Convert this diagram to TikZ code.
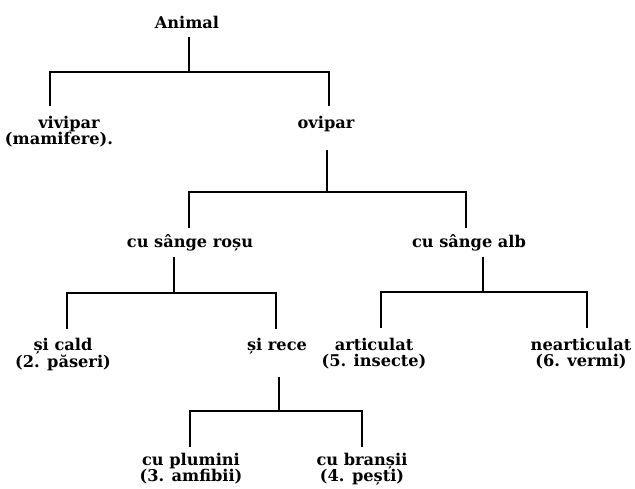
\documentclass[tikz,border=0pt]{standalone}
\usepackage{fontspec}
\setmainfont{DejaVu Serif}
\newcommand{\TwoLines}[2]{\begin{tabular}[t]{@{}c@{}}#1\\#2\end{tabular}}
\begin{document}
\begin{tikzpicture}[x=1pt,y=-1pt,
  lbl/.style={anchor=base,inner sep=0pt,font=\fontsize{16.2}{14.8}\selectfont\bfseries},
  conn/.style={line width=1.7pt,line cap=butt}]
\useasboundingbox (0,0) rectangle (635,488);
% labels
\node[lbl] (animal) at (187,28) {Animal};
\node[lbl] (vivipar) at (59,128) {\TwoLines{\hspace*{20pt}vivipar}{(mamifere).}};
\node[lbl] (ovipar) at (326,128) {ovipar};
\node[lbl] (rosu) at (190,247) {cu sânge roșu};
\node[lbl] (alb) at (469,247) {cu sânge alb};
\node[lbl] (cald) at (63,350) {\TwoLines{și cald}{(2. păseri)}};
\node[lbl] (rece) at (277,350) {și rece};
\node[lbl] (articulat) at (374,350) {\TwoLines{articulat}{(5. insecte)}};
\node[lbl] (nearticulat) at (581,350) {\TwoLines{nearticulat}{(6. vermi)}};
\node[lbl] (plumini) at (191,465) {\TwoLines{cu plumini}{(3. amfibii)}};
\node[lbl] (bransii) at (362,465) {\TwoLines{cu branșii}{(4. pești)}};
% level 1
\coordinate (s1t) at (189,37); \coordinate (s1b) at (189,72);
\coordinate (b1l) at (50,72);  \coordinate (b1r) at (329,72);
\coordinate (d1l) at (50,106); \coordinate (d1r) at (329,106);
\draw[conn] (s1t) -- (s1b);
\draw[conn] (d1l) -- (b1l) -- (b1r) -- (d1r);
% level 2
\coordinate (s2t) at (327,150); \coordinate (s2b) at (327,192);
\coordinate (b2l) at (189,192); \coordinate (b2r) at (466,192);
\coordinate (d2l) at (189,228); \coordinate (d2r) at (466,228);
\draw[conn] (s2t) -- (s2b);
\draw[conn] (d2l) -- (b2l) -- (b2r) -- (d2r);
% level 3 left
\coordinate (s3t) at (174,257); \coordinate (s3b) at (174,293);
\coordinate (b3l) at (67,293);  \coordinate (b3r) at (276,293);
\coordinate (d3l) at (67,329);  \coordinate (d3r) at (276,329);
\draw[conn] (s3t) -- (s3b);
\draw[conn] (d3l) -- (b3l) -- (b3r) -- (d3r);
% level 3 right
\coordinate (s4t) at (483,257); \coordinate (s4b) at (483,292);
\coordinate (b4l) at (381,292); \coordinate (b4r) at (587,292);
\coordinate (d4l) at (381,328); \coordinate (d4r) at (587,328);
\draw[conn] (s4t) -- (s4b);
\draw[conn] (d4l) -- (b4l) -- (b4r) -- (d4r);
% level 4
\coordinate (s5t) at (279,377); \coordinate (s5b) at (279,411);
\coordinate (b5l) at (190,411); \coordinate (b5r) at (362,411);
\coordinate (d5l) at (190,447); \coordinate (d5r) at (362,447);
\draw[conn] (s5t) -- (s5b);
\draw[conn] (d5l) -- (b5l) -- (b5r) -- (d5r);
\end{tikzpicture}
\end{document}
